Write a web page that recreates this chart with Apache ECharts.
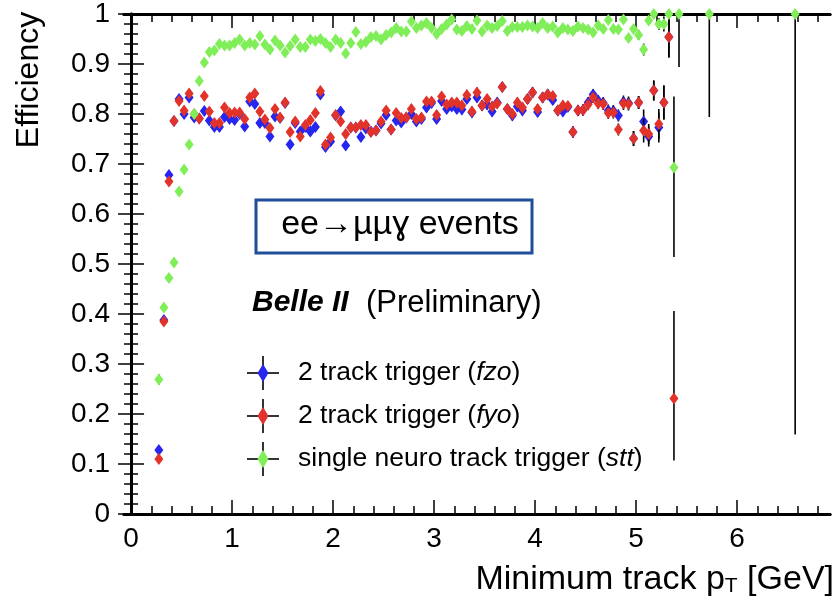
<!DOCTYPE html>
<html>
<head>
    <meta charset="UTF-8">
    <title>Trigger efficiency vs minimum track pT</title>
    <style type="text/css">
        *{
            margin: 0;padding: 0;
        }
        body{
            background: #fff;
        }
        #main{
            width: 836px;
            height: 601px;
        }
    </style>
    <script src="https://cdn.jsdelivr.net/npm/echarts@6/dist/echarts.min.js" type="text/javascript" charset="utf-8"></script>
</head>
<body>
<div id="main"></div>
</body>

<script type="text/javascript">
    // bin centres, GeV
    var pT = [
        0.275, 0.325, 0.375, 0.425, 0.475, 0.525, 0.575, 0.625, 0.675, 0.725,
        0.775, 0.825, 0.875, 0.925, 0.975, 1.025, 1.075, 1.125, 1.175, 1.225,
        1.275, 1.325, 1.375, 1.425, 1.475, 1.525, 1.575, 1.625, 1.675, 1.725,
        1.775, 1.825, 1.875, 1.925, 1.975, 2.025, 2.075, 2.125, 2.175, 2.225,
        2.275, 2.325, 2.375, 2.425, 2.475, 2.525, 2.575, 2.625, 2.675, 2.725,
        2.775, 2.825, 2.875, 2.925, 2.975, 3.025, 3.075, 3.125, 3.175, 3.225,
        3.275, 3.325, 3.375, 3.425, 3.475, 3.525, 3.575, 3.625, 3.675, 3.725,
        3.775, 3.825, 3.875, 3.925, 3.975, 4.025, 4.075, 4.125, 4.175, 4.225,
        4.275, 4.325, 4.375, 4.425, 4.475, 4.525, 4.575, 4.625, 4.675, 4.725,
        4.775, 4.825, 4.875, 4.925, 4.975, 5.025, 5.075, 5.125, 5.175, 5.225,
        5.275, 5.325, 5.375, 5.425
    ];

    // 2 track trigger (fzo) - blue
    var effFzo = [
        0.128, 0.388, 0.678, 0.786, 0.830, 0.800, 0.833, 0.793, 0.791, 0.806,
        0.787, 0.774, 0.774, 0.794, 0.790, 0.788, 0.800, 0.775, 0.825, 0.820,
        0.782, 0.782, 0.755, 0.795, 0.792, 0.822, 0.739, 0.782, 0.765, 0.774,
        0.765, 0.774, 0.839, 0.734, 0.745, 0.797, 0.805, 0.737, 0.773, 0.773,
        0.754, 0.771, 0.765, 0.767, 0.781, 0.798, 0.769, 0.787, 0.783, 0.793,
        0.800, 0.785, 0.790, 0.813, 0.822, 0.790, 0.826, 0.810, 0.815, 0.810,
        0.809, 0.830, 0.803, 0.833, 0.817, 0.819, 0.805, 0.823, 0.854, 0.810,
        0.797, 0.815, 0.807, 0.830, 0.843, 0.804, 0.833, 0.839, 0.828, 0.807,
        0.805, 0.814, 0.764, 0.807, 0.808, 0.823, 0.839, 0.827, 0.822, 0.807,
        0.806, 0.797, 0.824, 0.822, 0.751, 0.823, 0.785, 0.755, 0.847, 0.773,
        0.823, 0.954, null, null
    ];

    // 2 track trigger (fyo) - red
    var effFyo = [
        0.110, 0.385, 0.665, 0.786, 0.826, 0.807, 0.841, 0.800, 0.791, 0.836,
        0.805, 0.782, 0.782, 0.813, 0.802, 0.803, 0.803, 0.790, 0.833, 0.841,
        0.805, 0.789, 0.772, 0.810, 0.793, 0.823, 0.764, 0.785, 0.755, 0.778,
        0.788, 0.802, 0.846, 0.739, 0.753, 0.798, 0.785, 0.760, 0.773, 0.773,
        0.778, 0.778, 0.764, 0.767, 0.785, 0.807, 0.769, 0.802, 0.792, 0.793,
        0.810, 0.790, 0.793, 0.825, 0.825, 0.798, 0.835, 0.819, 0.823, 0.823,
        0.817, 0.838, 0.805, 0.843, 0.817, 0.830, 0.815, 0.821, 0.854, 0.810,
        0.800, 0.823, 0.813, 0.830, 0.843, 0.810, 0.833, 0.839, 0.836, 0.807,
        0.817, 0.816, 0.764, 0.807, 0.808, 0.819, 0.833, 0.821, 0.820, 0.802,
        0.803, 0.769, 0.821, 0.820, 0.751, 0.823, 0.767, 0.760, 0.847, 0.780,
        0.823, 0.954, 0.231, null
    ];

    // errors shared by both 2 track triggers ([down, up] where asymmetric)
    var errTwoTrack = [
        0.006, 0.007, 0.007, 0.007, 0.007, 0.007, 0.007, 0.007, 0.007, 0.007,
        0.008, 0.008, 0.008, 0.008, 0.008, 0.008, 0.008, 0.008, 0.008, 0.008,
        0.008, 0.008, 0.008, 0.008, 0.008, 0.008, 0.008, 0.008, 0.008, 0.008,
        0.009, 0.009, 0.009, 0.009, 0.009, 0.009, 0.009, 0.009, 0.009, 0.009,
        0.009, 0.009, 0.009, 0.009, 0.009, 0.009, 0.009, 0.009, 0.009, 0.009,
        0.009, 0.009, 0.009, 0.009, 0.009, 0.009, 0.009, 0.009, 0.009, 0.009,
        0.010, 0.010, 0.010, 0.010, 0.010, 0.010, 0.010, 0.010, 0.010, 0.010,
        0.010, 0.010, 0.010, 0.010, 0.010, 0.010, 0.010, 0.010, 0.010, 0.010,
        0.010, 0.010, 0.011, 0.011, 0.011, 0.011, 0.011, 0.011, 0.012, 0.012,
        0.012, 0.012, 0.013, 0.013, 0.015, 0.013, 0.024, 0.020, 0.020, 0.030,
        0.034, [0.041, 0.046], [0.124, 0.175], 0
    ];

    // single neuro track trigger (stt) - green
    var effStt = [
        0.269, 0.413, 0.472, 0.503, 0.645, 0.689, 0.739, 0.800, 0.866, 0.903,
        0.924, 0.927, 0.940, 0.937, 0.937, 0.942, 0.949, 0.937, 0.942, 0.939,
        0.956, 0.939, 0.929, 0.947, 0.937, 0.923, 0.936, 0.949, 0.934, 0.934,
        0.949, 0.946, 0.950, 0.942, 0.934, 0.949, 0.942, 0.921, 0.942, 0.964,
        0.940, 0.944, 0.954, 0.956, 0.949, 0.958, 0.963, 0.972, 0.965, 0.965,
        0.985, 0.972, 0.977, 0.982, 0.972, 0.960, 0.970, 0.979, 0.989, 0.969,
        0.966, 0.976, 0.970, 0.987, 0.965, 0.977, 0.972, 0.976, 0.986, 0.966,
        0.974, 0.974, 0.974, 0.977, 0.975, 0.972, 0.982, 0.972, 0.975, 0.963,
        0.972, 0.969, 0.966, 0.975, 0.972, 0.969, 0.963, 0.977, 0.970, 0.988,
        0.970, 0.969, 0.989, 0.952, 0.970, 0.958, 0.929, 0.987, 1.000, 0.980,
        0.980, 1.000, 0.693, 1.000
    ];
    var errStt = [
        0.010, 0.008, 0.008, 0.008, 0.007, 0.007, 0.006, 0.006, 0.005, 0.005,
        0.004, 0.004, 0.004, 0.004, 0.004, 0.004, 0.004, 0.004, 0.004, 0.004,
        0.004, 0.004, 0.004, 0.004, 0.004, 0.004, 0.004, 0.004, 0.004, 0.004,
        0.004, 0.004, 0.004, 0.004, 0.004, 0.004, 0.004, 0.004, 0.004, 0.004,
        0.004, 0.004, 0.004, 0.004, 0.004, 0.004, 0.004, 0.004, 0.004, 0.004,
        0.004, 0.004, 0.004, 0.004, 0.004, 0.004, 0.004, 0.004, 0.004, 0.004,
        0.004, 0.004, 0.004, 0.004, 0.004, 0.004, 0.004, 0.004, 0.004, 0.004,
        0.004, 0.004, 0.004, 0.004, 0.004, 0.004, 0.004, 0.004, 0.004, 0.004,
        0.005, 0.005, 0.005, 0.005, 0.005, 0.005, 0.005, 0.005, 0.005, 0.005,
        0.006, 0.006, 0.006, 0.008, 0.008, 0.010, 0.012, 0.008, [0.010, 0], 0.012,
        0.015, [0.030, 0], [0.179, 0.142], [0.106, 0]
    ];
    // isolated high pT bins of the stt curve
    var pTSttTail = [5.725, 6.575];
    var effSttTail = [1.000, 1.000];
    var errSttTail = [[0.206, 0], [0.841, 0]];

    // axis ticks
    var xMajorTicks = [0, 1, 2, 3, 4, 5, 6];
    var xMinorTicks = [0, 0.2, 0.4, 0.6, 0.8, 1, 1.2, 1.4, 1.6, 1.8, 2, 2.2, 2.4, 2.6, 2.8, 3, 3.2, 3.4, 3.6, 3.8,
        4, 4.2, 4.4, 4.6, 4.8, 5, 5.2, 5.4, 5.6, 5.8, 6, 6.2, 6.4, 6.6, 6.8];

    var colFzo = '#2626ef', colFyo = '#e2332b', colStt = '#80ee58';
    var FONT = '"Liberation Sans", Arial, Helvetica, "DejaVu Sans", sans-serif';

    // [x, y, down, up]
    function points(x, y, err) {
        var out = [];
        for (var i = 0; i < x.length; i++) {
            if (y[i] == null) continue;
            var e = err[i];
            var lo = Array.isArray(e) ? e[0] : e;
            var hi = Array.isArray(e) ? e[1] : e;
            out.push([x[i], y[i], lo, hi]);
        }
        return out;
    }

    function errorBar(params, api) {
        var x = api.value(0), y = api.value(1);
        var top = Math.min(1, y + api.value(3));
        var bot = Math.max(0, y - api.value(2));
        var p1 = api.coord([x, bot]);
        var p2 = api.coord([x, top]);
        return {
            type: 'line',
            shape: {x1: p1[0], y1: p1[1], x2: p2[0], y2: p2[1]},
            style: {stroke: '#000', lineWidth: 1.6}
        };
    }

    function barSeries(data, z) {
        return {type: 'custom', data: data, renderItem: errorBar, encode: {x: 0, y: 1}, z: z, silent: true, clip: false};
    }
    function markSeries(data, color, z) {
        return {
            type: 'scatter', z: z, silent: true, clip: false,
            data: data.map(function (d) { return [d[0], d[1]]; }),
            symbol: 'diamond', symbolSize: [9, 12],
            itemStyle: {color: color, opacity: 1}
        };
    }

    var fzoPts = points(pT, effFzo, errTwoTrack);
    var fyoPts = points(pT, effFyo, errTwoTrack);
    var sttPts = points(pT, effStt, errStt).concat(points(pTSttTail, effSttTail, errSttTail));

    function xAxisBase(pos, ticks, len, labels) {
        return {
            type: 'value', position: pos, min: -0.07, max: 6.92,
            axisLine: {show: true, lineStyle: {color: '#000', width: 3}},
            axisTick: {show: true, inside: true, length: len, customValues: ticks, lineStyle: {color: '#000', width: 1.5}},
            axisLabel: labels ? {show: true, customValues: xMajorTicks, color: '#000', fontSize: 28, fontFamily: FONT, margin: 11} : {show: false},
            splitLine: {show: false}
        };
    }
    function yAxisBase(pos, labels) {
        return {
            type: 'value', position: pos, min: 0, max: 1, interval: 0.1,
            axisLine: {show: true, lineStyle: {color: '#000', width: 3}},
            axisTick: {show: true, inside: true, length: 13, lineStyle: {color: '#000', width: 1.5}},
            minorTick: {show: true, splitNumber: 5, length: 7, lineStyle: {color: '#000', width: 1.5}},
            axisLabel: labels ? {
                show: true, color: '#000', fontSize: 28, fontFamily: FONT, margin: 14,
                formatter: function (v) {
                    if (v === 0) return '0';
                    if (Math.abs(v - 1) < 1e-9) return '1';
                    return v.toFixed(1);
                }
            } : {show: false},
            splitLine: {show: false}
        };
    }

    function legendItem(y, color) {
        return [
            {type: 'line', shape: {x1: 247, y1: y, x2: 279, y2: y}, style: {stroke: '#000', lineWidth: 1.6}},
            {type: 'line', shape: {x1: 263, y1: y - 17, x2: 263, y2: y + 17}, style: {stroke: '#000', lineWidth: 1.6}},
            {type: 'polygon', shape: {points: [[263, y - 9], [268.5, y], [263, y + 9], [257.5, y]]}, style: {fill: color}}
        ];
    }

    var legendRich = {
        n: {fontSize: 26.5, fontFamily: FONT, fill: '#000'},
        i: {fontSize: 26.5, fontFamily: FONT, fontStyle: 'italic', fill: '#000'}
    };

    var myChart = echarts.init(document.getElementById('main'));

    var option = {
        animation: false,
        backgroundColor: '#fff',
        grid: {left: 124, right: 6, top: 10, bottom: 87, containLabel: false},
        xAxis: [
            xAxisBase('bottom', xMajorTicks, 14, true),
            xAxisBase('bottom', xMinorTicks, 8, false),
            xAxisBase('top', xMajorTicks, 14, false),
            xAxisBase('top', xMinorTicks, 8, false)
        ],
        yAxis: [
            yAxisBase('left', true),
            yAxisBase('right', false)
        ],
        series: [
            barSeries(fzoPts, 10),
            markSeries(fzoPts, colFzo, 11),
            barSeries(fyoPts, 12),
            markSeries(fyoPts, colFyo, 13),
            barSeries(sttPts, 14),
            markSeries(sttPts, colStt, 15)
        ],
        graphic: [
            {
                type: 'text', x: 29, y: 80, rotation: Math.PI / 2,
                style: {text: 'Efficiency', fontSize: 32, fontFamily: FONT, fill: '#000', textAlign: 'center', textVerticalAlign: 'middle'}
            },
            {
                type: 'text', x: 834, y: 580,
                style: {
                    text: '{m|Minimum track p}{s|T}{m| [GeV]}',
                    textAlign: 'right', textVerticalAlign: 'middle', fill: '#000',
                    rich: {
                        m: {fontSize: 34, fontFamily: FONT, fill: '#000'},
                        s: {fontSize: 21, fontFamily: FONT, fill: '#000', verticalAlign: 'bottom'}
                    }
                }
            },
            {
                type: 'rect', shape: {x: 256, y: 200, width: 276, height: 53},
                style: {fill: '#fff', stroke: '#1f4e9a', lineWidth: 3}
            },
            {
                type: 'text', x: 400, y: 225,
                style: {text: 'ee\u2192\u00b5\u00b5\u0263 events', fontSize: 34, fontFamily: FONT, fill: '#000', textAlign: 'center', textVerticalAlign: 'middle'}
            },
            {
                type: 'text', x: 252, y: 303,
                style: {
                    text: '{b|Belle II}{n|  (Preliminary)}',
                    textAlign: 'left', textVerticalAlign: 'middle',
                    rich: {
                        b: {fontSize: 30, fontFamily: FONT, fontWeight: 'bold', fontStyle: 'italic', fill: '#000'},
                        n: {fontSize: 31, fontFamily: FONT, fill: '#000'}
                    }
                }
            },
            {
                type: 'group',
                children: legendItem(373, colFzo).concat(legendItem(416, colFyo), legendItem(459, colStt))
            },
            {
                type: 'text', x: 298, y: 373,
                style: {text: '{n|2 track trigger (}{i|fzo}{n|)}', textAlign: 'left', textVerticalAlign: 'middle', rich: legendRich}
            },
            {
                type: 'text', x: 298, y: 416,
                style: {text: '{n|2 track trigger (}{i|fyo}{n|)}', textAlign: 'left', textVerticalAlign: 'middle', rich: legendRich}
            },
            {
                type: 'text', x: 298, y: 459,
                style: {text: '{n|single neuro track trigger (}{i|stt}{n|)}', textAlign: 'left', textVerticalAlign: 'middle', rich: legendRich}
            }
        ]
    };
    myChart.setOption(option);
</script>
</html>
